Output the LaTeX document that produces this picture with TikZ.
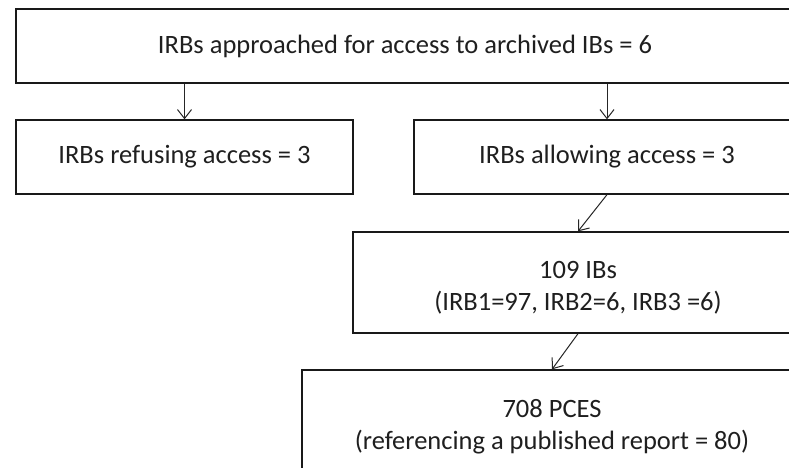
\documentclass[tikz,border=0pt]{standalone}
\usepackage{fontspec}
\setmainfont{Carlito}
\usetikzlibrary{arrows.meta}
% taller first line, so two-line texts sit a little low in their boxes
\newcommand{\toplift}{\rule{0pt}{28pt}}
\begin{document}
\begin{tikzpicture}[x=1pt, y=-1pt,
  box/.style={draw=black!90, line width=1.3pt, inner sep=0pt, align=center,
    text=black!88, font=\fontsize{26.5}{32}\selectfont},
  arr/.style={draw=black!85, line width=1pt,
    -{Straight Barb[length=9pt, width=14pt, line width=1pt]}}]
  % page frame; boxes run past the right and bottom edges
  \path[use as bounding box] (0,0) rectangle (789,467);
  \fill[white] (0,0) rectangle (789,467);
  \clip (0,0) rectangle (789,467);

  \node[box, minimum width=778pt, minimum height=74pt] (top) at (405,46)
    {IRBs approached for access to archived IBs = 6};
  \node[box, minimum width=337pt, minimum height=74pt] (refuse) at (184.5,157)
    {IRBs refusing access = 3};
  \node[box, minimum width=386pt, minimum height=74pt] (allow) at (607,157)
    {IRBs allowing access = 3};
  \node[box, minimum width=450pt, minimum height=101pt] (ibs) at (578,282.5)
    {\toplift 109 IBs\\(IRB1=97, IRB2=6, IRB3 =6)};
  \node[box, minimum width=500pt, minimum height=104pt] (pces) at (552,422)
    {\toplift 708 PCES\\(referencing a published report = 80)};

  \draw[arr] (refuse.north |- top.south) -- (refuse.north);
  \draw[arr] (allow.north |- top.south) -- (allow.north);
  \draw[arr] (allow.south) -- (ibs.north);
  \draw[arr] (ibs.south) -- (pces.north);
\end{tikzpicture}
\end{document}
